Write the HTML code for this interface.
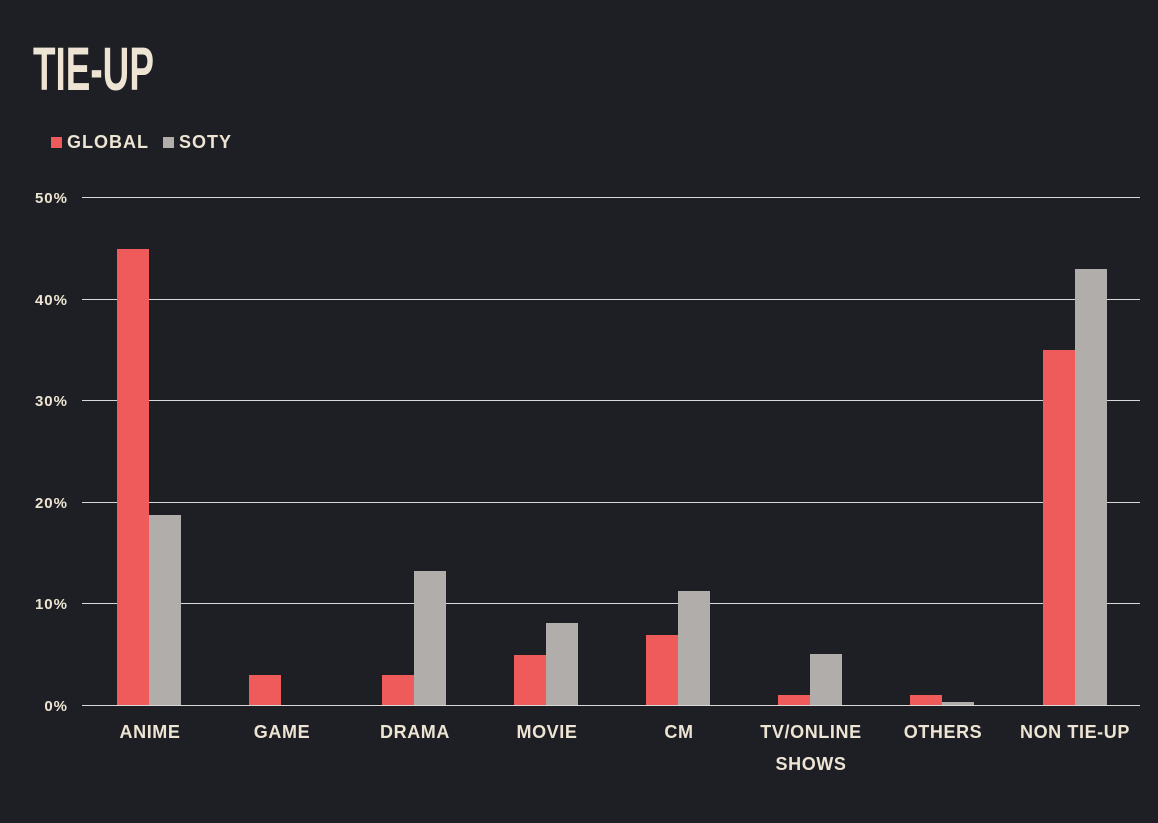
<!DOCTYPE html>
<html><head><meta charset="utf-8"><style>
html,body{margin:0;padding:0;background:#1e1f24;}
body{width:1158px;height:818px;overflow:hidden;}
</style></head><body>
<svg width="1158" height="818" xmlns="http://www.w3.org/2000/svg" font-family="Liberation Sans, sans-serif">
<rect width="1158" height="818" fill="#1e1f24"/>
<text x="33" y="90" font-size="61" font-weight="bold" fill="#ede4d3" transform="translate(33,0) scale(0.605,1) translate(-33,0)">TIE-UP</text>
<rect x="51" y="137" width="11" height="11" fill="#ef5b5b"/>
<text x="67" y="148" font-size="18" font-weight="bold" letter-spacing="1" fill="#ede4d3">GLOBAL</text>
<rect x="163" y="137" width="11" height="11" fill="#b0adab"/>
<text x="179" y="148" font-size="18" font-weight="bold" letter-spacing="1" fill="#ede4d3">SOTY</text>
<g stroke="#d8d8d8" stroke-width="1">
<line x1="82" x2="1140" y1="197.5" y2="197.5"/>
<line x1="82" x2="1140" y1="299.5" y2="299.5"/>
<line x1="82" x2="1140" y1="400.5" y2="400.5"/>
<line x1="82" x2="1140" y1="502.5" y2="502.5"/>
<line x1="82" x2="1140" y1="603.5" y2="603.5"/>
<line x1="82" x2="1140" y1="705.5" y2="705.5"/>
</g>
<g font-size="15" font-weight="bold" letter-spacing="1" fill="#ede4d3" text-anchor="end">
<text x="68" y="203">50%</text>
<text x="68" y="305">40%</text>
<text x="68" y="406">30%</text>
<text x="68" y="508">20%</text>
<text x="68" y="609">10%</text>
<text x="68" y="711">0%</text>
</g>
<g fill="#ef5b5b">
<rect x="117" y="249" width="32" height="456"/>
<rect x="249" y="675" width="32" height="30"/>
<rect x="382" y="675" width="32" height="30"/>
<rect x="514" y="655" width="32" height="50"/>
<rect x="646" y="635" width="32" height="70"/>
<rect x="778" y="695" width="32" height="10"/>
<rect x="910" y="695" width="32" height="10"/>
<rect x="1043" y="350" width="32" height="355"/>
</g>
<g fill="#b0adab">
<rect x="149" y="515" width="32" height="190"/>
<rect x="414" y="571" width="32" height="134"/>
<rect x="546" y="623" width="32" height="82"/>
<rect x="678" y="591" width="32" height="114"/>
<rect x="810" y="654" width="32" height="51"/>
<rect x="942" y="702" width="32" height="3"/>
<rect x="1075" y="269" width="32" height="436"/>
</g>
<g font-size="18" font-weight="bold" letter-spacing="0.6" fill="#ede4d3" text-anchor="middle">
<text x="150" y="738">ANIME</text>
<text x="282" y="738">GAME</text>
<text x="415" y="738">DRAMA</text>
<text x="547" y="738">MOVIE</text>
<text x="679" y="738">CM</text>
<text x="811" y="738">TV/ONLINE</text>
<text x="811" y="770">SHOWS</text>
<text x="943" y="738">OTHERS</text>
<text x="1075" y="738">NON TIE-UP</text>
</g>
</svg>
</body></html>
